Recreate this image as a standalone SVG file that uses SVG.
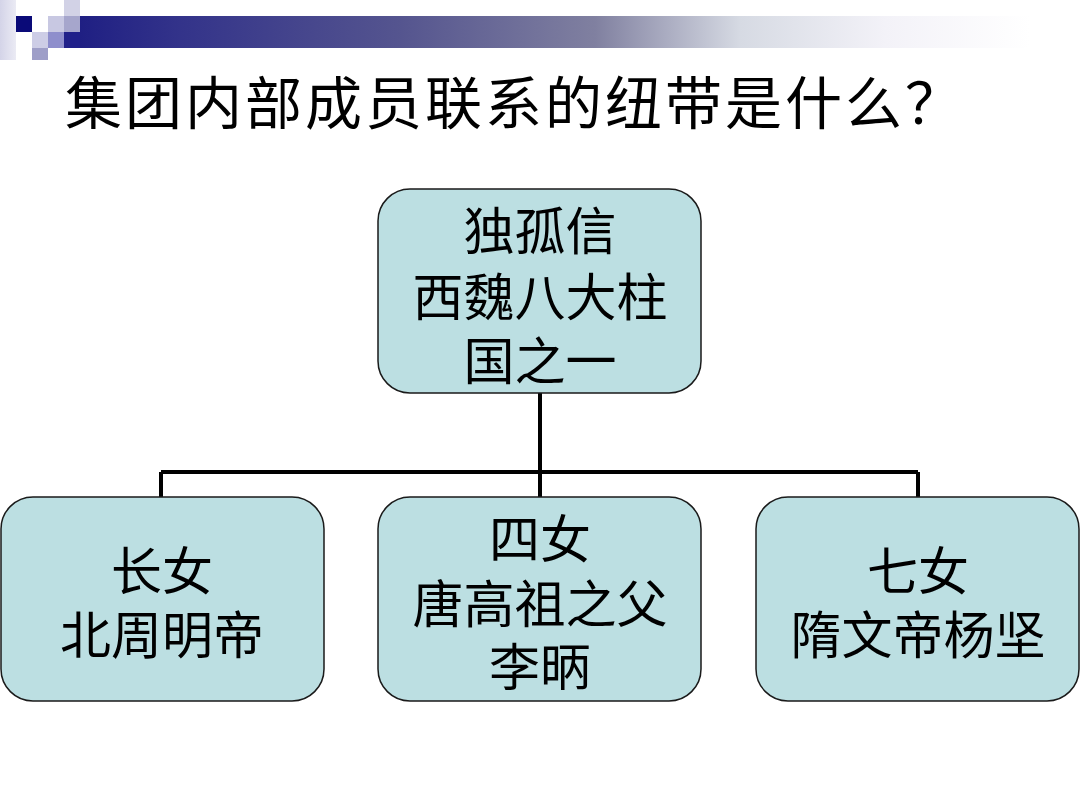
<svg xmlns="http://www.w3.org/2000/svg" width="1080" height="810" viewBox="0 0 1080 810">
<defs>
<linearGradient id="bar" x1="64" y1="0" x2="1030" y2="0" gradientUnits="userSpaceOnUse">
<stop offset="0" stop-color="#1c1c82"/>
<stop offset="0.12" stop-color="#33338a"/>
<stop offset="0.35" stop-color="#55558f"/>
<stop offset="0.55" stop-color="#8080a0"/>
<stop offset="0.7" stop-color="#d6dae3"/>
<stop offset="0.85" stop-color="#f3f2f8"/>
<stop offset="1" stop-color="#ffffff"/>
</linearGradient>
<linearGradient id="fadeL" x1="0" y1="0" x2="30" y2="0" gradientUnits="userSpaceOnUse">
<stop offset="0" stop-color="#d4d4e8"/>
<stop offset="1" stop-color="#ffffff"/>
</linearGradient>
</defs>
<style>
.node rect{fill:#bcdfe2;stroke:#1a1a1a;stroke-width:1.5}
.node text,.title{font-family:"Liberation Serif","Noto Sans CJK SC",serif;fill:#000}
.node text{font-size:51px;text-anchor:middle}
.title{font-size:57px;letter-spacing:3px}
.conn{stroke:#000;stroke-width:4;fill:none}
</style>
<rect width="1080" height="810" fill="#fff"/>
<g id="decor">
<rect x="0" y="0" width="16" height="60" fill="url(#fadeL)"/>
<rect x="64" y="16" width="966" height="32" fill="url(#bar)"/>
<rect x="16" y="16" width="16" height="16" fill="#0a0a78"/>
<rect x="48" y="16" width="16" height="16" fill="#c8c8e2"/>
<rect x="64" y="0" width="16" height="32" fill="#a6a6cc"/>
<rect x="64" y="0" width="16" height="16" fill="#d2d2e6"/>
<rect x="32" y="32" width="16" height="16" fill="#cdcde6"/>
<rect x="48" y="32" width="16" height="16" fill="#8e8ecc"/>
<rect x="64" y="32" width="16" height="16" fill="#20208a"/>
<rect x="32" y="48" width="16" height="12" fill="#9e9ec8"/>
</g>
<text class="title" x="65" y="124">集团内部成员联系的纽带是什么？</text>
<g id="connectors">
<path class="conn" d="M540 393 V497 M161 472 H918 M161 472 V497 M918 472 V497"/>
</g>
<g id="node-top" class="node">
<rect x="378" y="189" width="323" height="204" rx="32"/>
<text x="540" y="250">独孤信</text>
<text x="540" y="316">西魏八大柱</text>
<text x="540" y="380">国之一</text>
</g>
<g id="node-left" class="node">
<rect x="1" y="497" width="323" height="204" rx="32"/>
<text x="162" y="590">长女</text>
<text x="162" y="654">北周明帝</text>
</g>
<g id="node-mid" class="node">
<rect x="378" y="497" width="323" height="204" rx="32"/>
<text x="540" y="558">四女</text>
<text x="540" y="623">唐高祖之父</text>
<text x="540" y="686">李昞</text>
</g>
<g id="node-right" class="node">
<rect x="756" y="497" width="323" height="204" rx="32"/>
<text x="918" y="590">七女</text>
<text x="918" y="654">隋文帝杨坚</text>
</g>
</svg>
